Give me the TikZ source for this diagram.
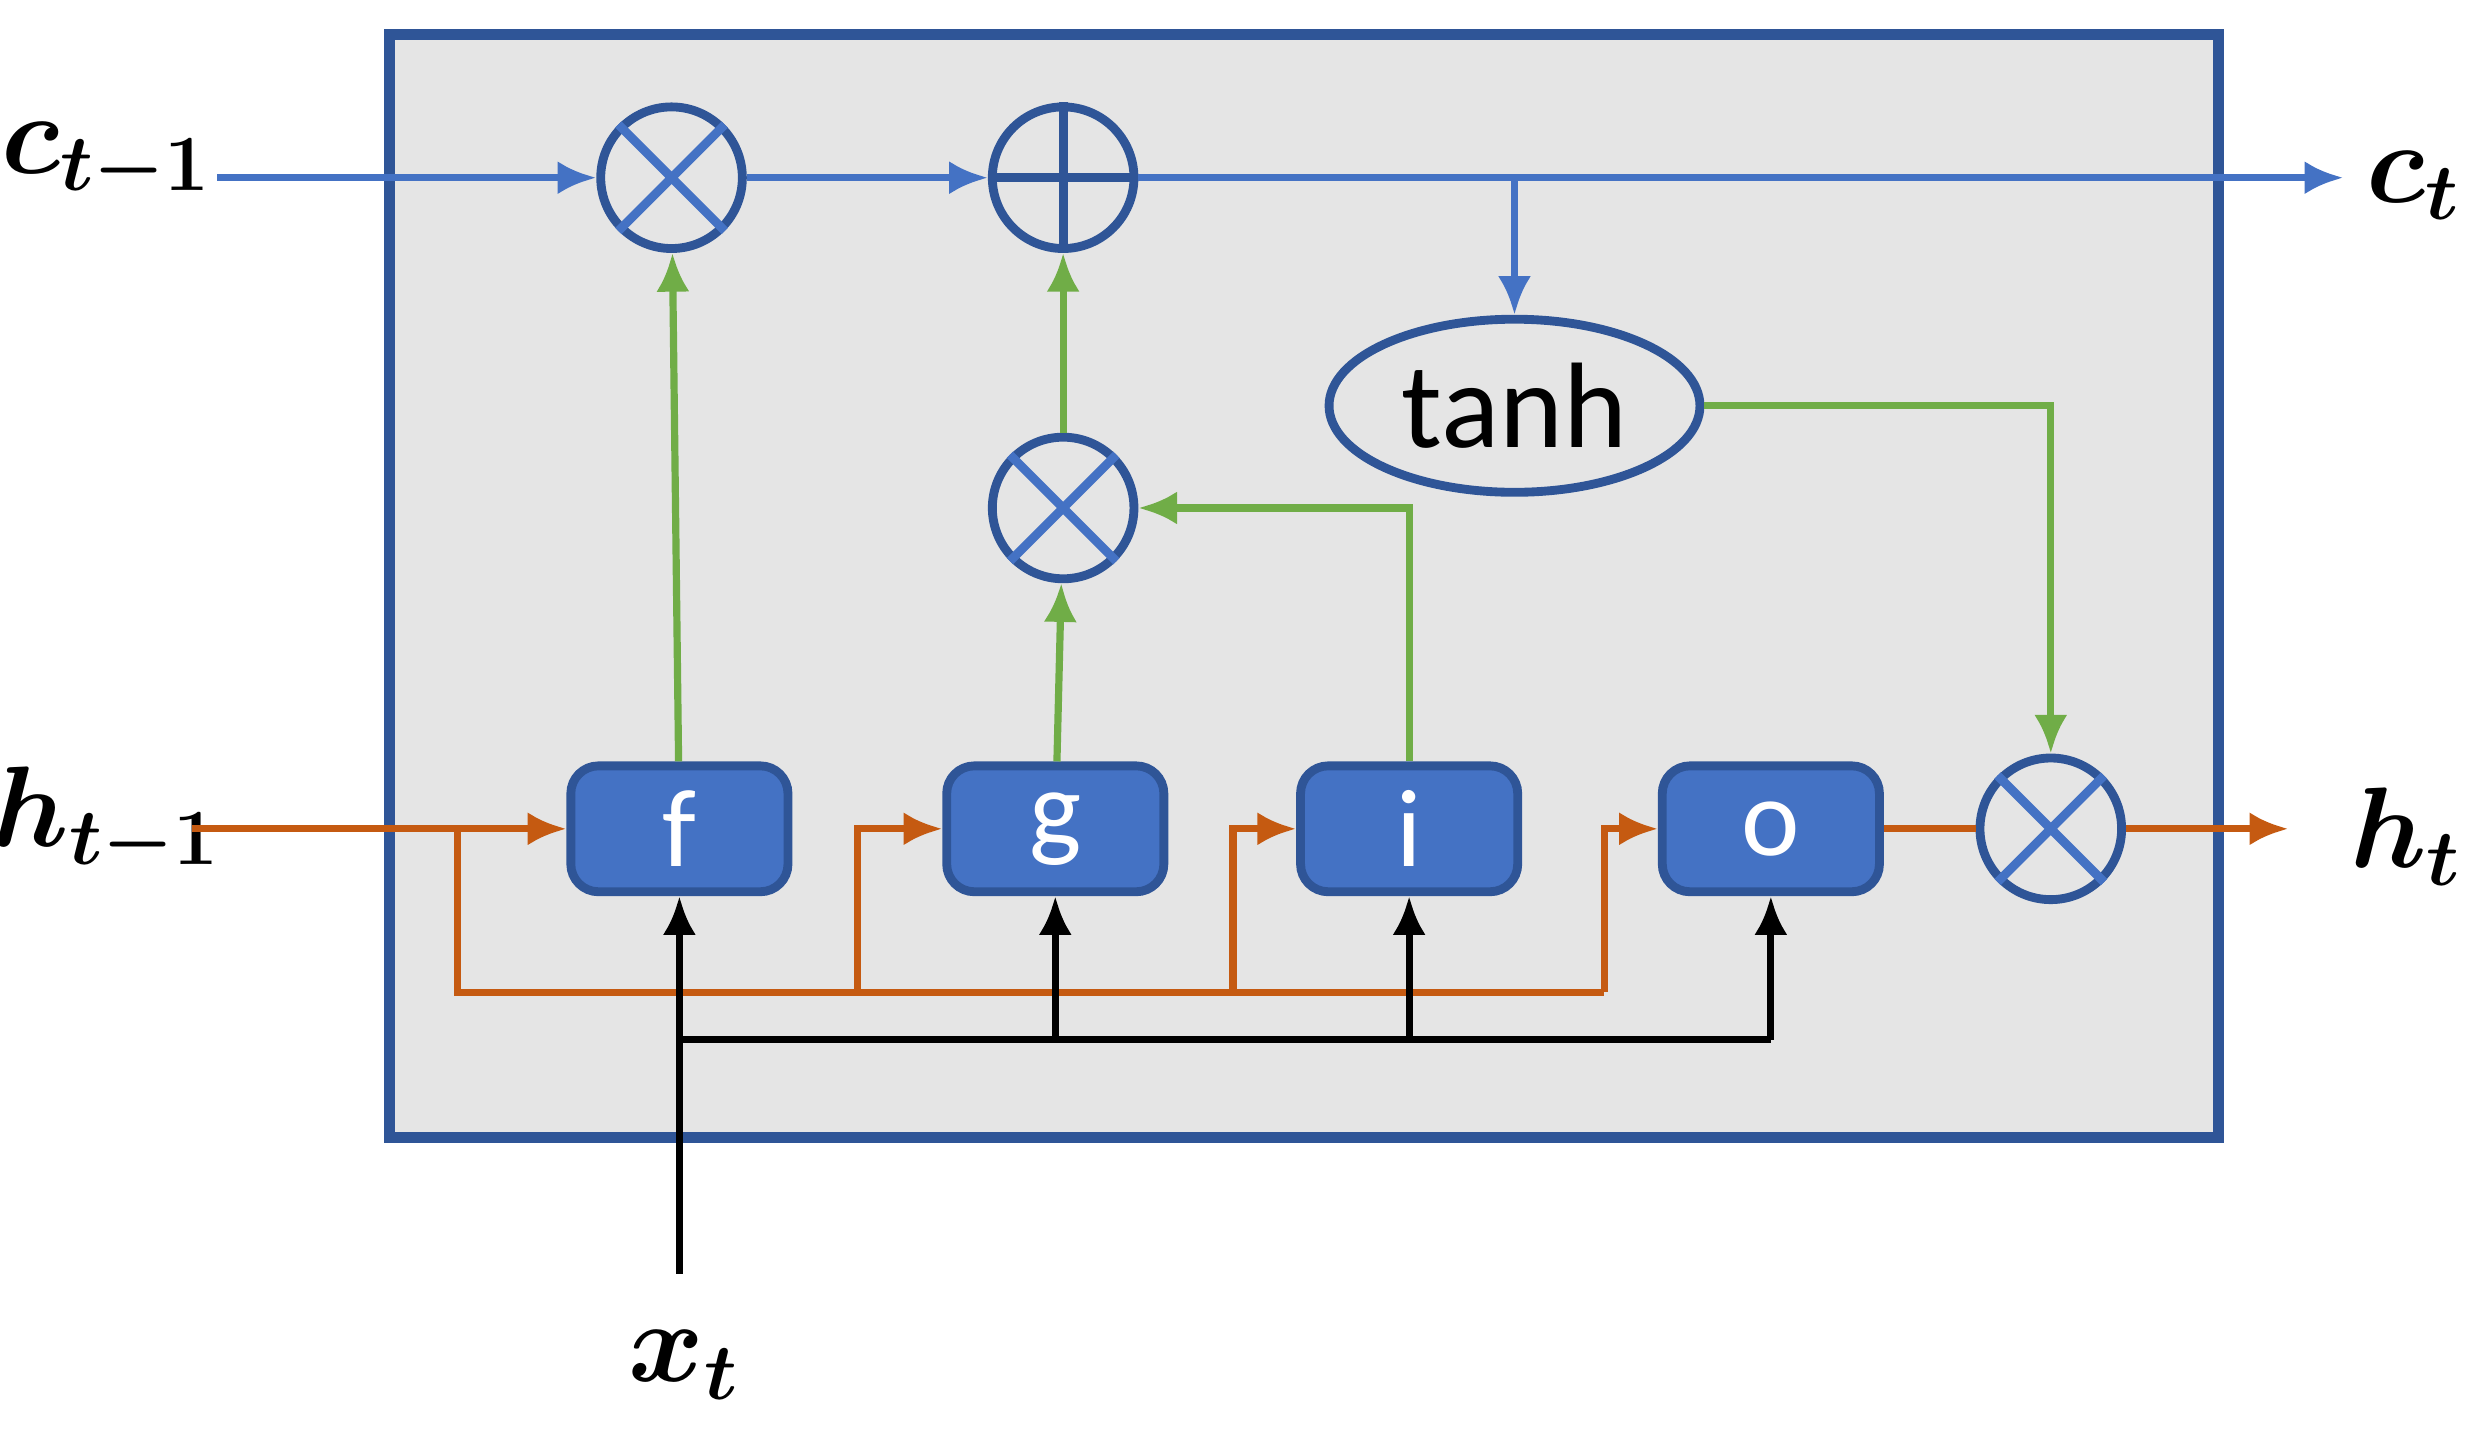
\documentclass[tikz,border=0pt]{standalone}
\usepackage{fontspec}
\setmainfont{Carlito}
\usepackage{amsmath,bm}
\usetikzlibrary{arrows.meta,shapes.geometric}
\definecolor{cblue}{HTML}{4472C4}
\definecolor{dblue}{HTML}{2F5597}
\definecolor{cgreen}{HTML}{70AD47}
\definecolor{corange}{HTML}{C55A11}
\begin{document}
\begin{tikzpicture}[x=0.01cm,y=-0.01cm,
  op/.style={circle,draw=dblue,line width=1.6pt,minimum size=0.9cm,inner sep=0},
  gate/.style={rectangle,rounded corners=5pt,fill=cblue,draw=dblue,line width=1.6pt,minimum width=1.38cm,minimum height=0.8cm,text=white,font=\fontsize{20}{20}\selectfont},
  lbl/.style={font=\fontsize{22}{22}\selectfont},
  ar/.style={line width=1.3pt,-{Latex[length=7pt,width=6pt]}},
  bl/.style={ar,cblue},gr/.style={ar,cgreen},orr/.style={ar,corange},bk/.style={ar,black}]
\useasboundingbox (0,0) rectangle (1568,918);
\node[draw=dblue,fill=gray!20,line width=2pt,minimum width=11.62cm,minimum height=7.01cm,inner sep=0] (cell) at (829,372.5) {};
\node[op] (m1) at (427,113) {};
\draw[cblue,line width=1.6pt] (m1.north west)--(m1.south east) (m1.north east)--(m1.south west);
\node[op] (p1) at (676,113) {};
\draw[dblue,line width=1.6pt] (p1.north)--(p1.south) (p1.west)--(p1.east);
\node[op] (m2) at (676,323) {};
\draw[cblue,line width=1.6pt] (m2.north west)--(m2.south east) (m2.north east)--(m2.south west);
\node[op] (m3) at (1304,527) {};
\draw[cblue,line width=1.6pt] (m3.north west)--(m3.south east) (m3.north east)--(m3.south west);
\node[ellipse,draw=dblue,line width=1.6pt,minimum width=2.04cm,minimum height=1.1cm,font=\fontsize{22}{22}\selectfont] (tanh) at (963,258) {tanh};
\node[gate] (f) at (432,527) {f};
\node[gate] (g) at (671,527) {g};
\node[gate] (i) at (896,527) {i};
\node[gate] (o) at (1126,527) {o};
\node[lbl] (ctm) at (68,103) {$\bm{c_{t-1}}$};
\node[lbl] (ct) at (1535,118) {$\bm{c_{t}}$};
\node[lbl] (htm) at (68,522) {$\bm{h_{t-1}}$};
\node[lbl] (ht) at (1530,532) {$\bm{h_{t}}$};
\node[lbl] (xt) at (435,868) {$\bm{x_{t}}$};
\coordinate (cin) at (138,113);
\coordinate (cout) at (1490,113);
\coordinate (hin) at (122,527);
\coordinate (hout) at (1455,527);
\coordinate (xin) at (432,810);
% blue
\draw[bl] (cin)--(m1);
\draw[bl] (m1)--(p1);
\draw[bl] (p1)--(cout);
\draw[bl] (963,113)--(tanh.north);
% green
\draw[gr] (f)--(m1);
\draw[gr] (g)--(m2);
\draw[gr] (m2)--(p1);
\draw[gr] (i.north)|-(m2.east);
\draw[gr] (tanh.east)-|(m3.north);
% orange
\draw[orr] (hin)--(f);
\draw[corange,line width=1.3pt] (291,527)--(291,631)--(1020,631);
\draw[orr] (545,631)|-(g.west);
\draw[orr] (784,631)|-(i.west);
\draw[orr] (1020,631)|-(o.west);
\draw[corange,line width=1.3pt] (o)--(m3);
\draw[orr] (m3)--(hout);
% black
\draw[bk] (xin)--(f.south);
\draw[black,line width=1.3pt] (432,661)--(1126,661);
\draw[bk] (671,661)--(g.south);
\draw[bk] (896,661)--(i.south);
\draw[bk] (1126,661)--(o.south);
\end{tikzpicture}
\end{document}
